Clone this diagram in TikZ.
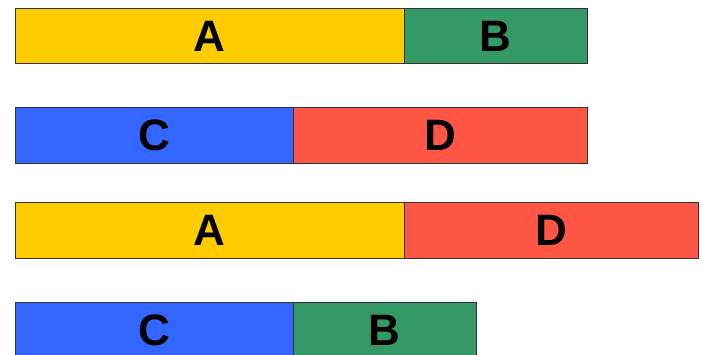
\documentclass[tikz,border=0pt]{standalone}
\usepackage{fontspec}
\setmainfont{Liberation Sans}
\definecolor{cA}{HTML}{FFCC00}
\definecolor{cB}{HTML}{339966}
\definecolor{cC}{HTML}{3366FF}
\definecolor{cD}{HTML}{FF5544}
\begin{document}
\begin{tikzpicture}[x=1pt,y=-1pt,
  seg/.style={draw=black!80,line width=1pt,anchor=north west,inner sep=0pt,outer sep=0pt,
    minimum height=55.5pt,font=\bfseries\fontsize{44}{44}\selectfont,text=black}]
\useasboundingbox (0,0) rectangle (702,355);
\node[seg,fill=cA,minimum width=389pt] (a1) at (15,8.5) {A};
\node[seg,fill=cB,minimum width=183pt] (b1) at (404,8.5) {B};
\node[seg,fill=cC,minimum width=278pt] (c2) at (15,108) {C};
\node[seg,fill=cD,minimum width=294pt] (d2) at (293,108) {D};
\node[seg,fill=cA,minimum width=389pt] (a3) at (15,203) {A};
\node[seg,fill=cD,minimum width=294pt] (d3) at (404,203) {D};
\node[seg,fill=cC,minimum width=278pt] (c4) at (15,302.5) {C};
\node[seg,fill=cB,minimum width=183pt] (b4) at (293,302.5) {B};
\end{tikzpicture}
\end{document}
